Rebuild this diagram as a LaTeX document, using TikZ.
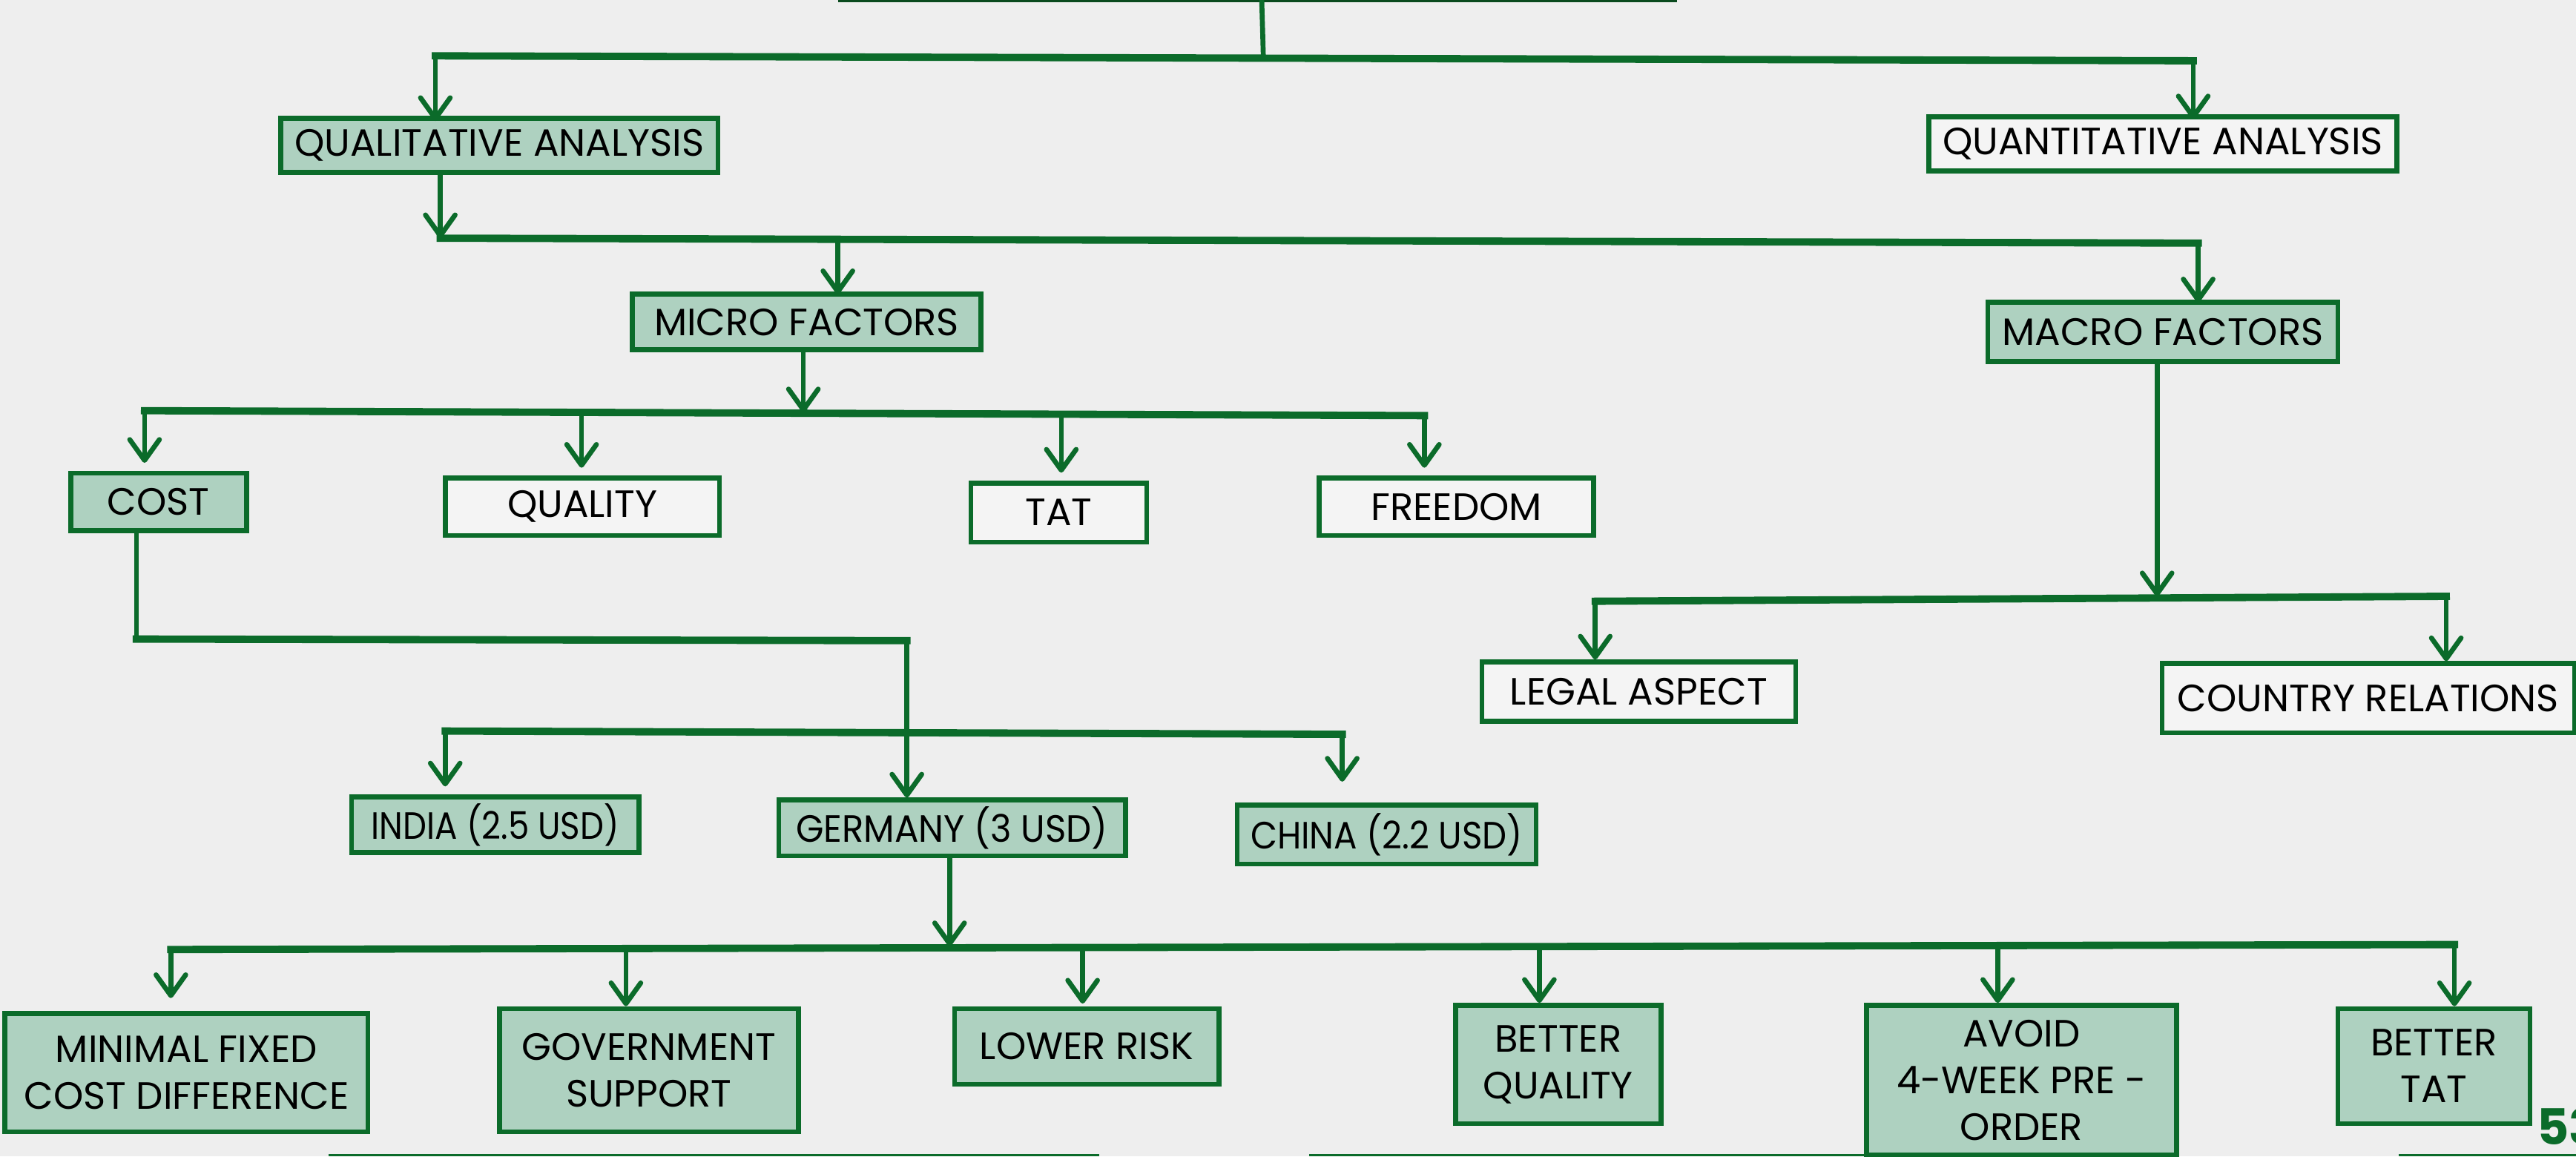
\documentclass[tikz,border=0pt]{standalone}
\usepackage{fontspec}
\usepackage{graphicx}
\setmainfont{Poppins}
\usetikzlibrary{arrows.meta}
\definecolor{bgc}{HTML}{EEEEEE}
\definecolor{leaf}{HTML}{0B6B2A}
\definecolor{darkleaf}{HTML}{0A4A1E}
\definecolor{mint}{HTML}{AED1C0}
\definecolor{paper}{HTML}{F4F4F4}
\newcommand{\narrow}[2]{\scalebox{#1}[1]{#2}}
\tikzset{
  box/.style 2 args={draw=leaf, line width=1.9pt, inner sep=0pt, align=center,
    minimum width={#1*0.02215cm}, minimum height={#2*0.02215cm},
    font=\fontsize{14.6}{17.9}\selectfont, text=black},
  filledbox/.style 2 args={box={#1}{#2}, fill=mint},
  plainbox/.style 2 args={box={#1}{#2}, fill=paper},
  link/.style={draw=leaf, line width=1.9pt},
  bar/.style={draw=leaf, line width=2.8pt, line cap=rect},
  arr/.style={link, -{Straight Barb[length=2.8mm, width=4mm, round]}},
  edge line/.style={draw=#1, line width=0.9pt},
}
\begin{document}
\begin{tikzpicture}[x=0.02215cm, y=-0.02215cm]
\fill[bgc] (0,0) rectangle (1568,704);
\useasboundingbox (0,0) rectangle (1568,704);

% thin rules along the page edges
\draw[edge line=darkleaf] (510,0.6) -- (1021,0.6);
\draw[edge line=leaf] (200,703.3) -- (669,703.3);
\draw[edge line=leaf] (797,703.3) -- (1320,703.3);
\draw[edge line=leaf] (1460,703.3) -- (1568,703.3);

% boxes
\node[filledbox={266}{33}] (qual) at (304,88.5) {QUALITATIVE ANALYSIS};
\node[plainbox={285}{33}] (quant) at (1316.5,87.5) {QUANTITATIVE ANALYSIS};
\node[filledbox={212}{34}] (micro) at (491,196) {MICRO FACTORS};
\node[filledbox={213}{36}] (macro) at (1316.5,202) {MACRO FACTORS};
\node[filledbox={107}{35}] (cost) at (96.5,305.5) {COST};
\node[plainbox={167}{35}] (quality) at (354.5,308.5) {QUALITY};
\node[plainbox={107}{36}] (tat) at (644.5,312) {TAT};
\node[plainbox={167}{35}] (freedom) at (886.5,308.5) {FREEDOM};
\node[plainbox={191}{36}] (legal) at (997.5,421) {LEGAL ASPECT};
\node[plainbox={251}{42}] (country) at (1441.5,425) {COUNTRY RELATIONS};
\node[filledbox={175}{34}] (india) at (301.5,502) {\narrow{0.88}{INDIA (2.5 USD)}};
\node[filledbox={211}{34}] (germany) at (579.5,504) {\narrow{0.94}{GERMANY (3 USD)}};
\node[filledbox={182}{36}] (china) at (844,508) {\narrow{0.91}{CHINA (2.2 USD)}};
\node[filledbox={221}{72}] (minimal) at (113.5,653) {MINIMAL FIXED\\COST DIFFERENCE};
\node[filledbox={182}{75}] (govt) at (395,651.5) {GOVERNMENT\\SUPPORT};
\node[filledbox={161}{46}] (risk) at (661.5,637) {LOWER RISK};
\node[filledbox={125}{72}] (bquality) at (948.5,648) {BETTER\\QUALITY};
\node[filledbox={189}{91}] (avoid) at (1230.5,657.5) {AVOID\\4-WEEK PRE -\\ORDER};
\node[filledbox={117}{70}] (btat) at (1481.5,649) {BETTER\\TAT};

% page number
\node[anchor=south west, inner sep=0pt, text=leaf, font=\fontsize{19}{19}\bfseries\selectfont] (page) at (1544,697.5) {53};

% junction points
\coordinate (top) at (768,0);
\coordinate (topj) at (769,35);
\coordinate (b1L) at (265,34);
\coordinate (b1R) at (1335,37);
\coordinate (b2L) at (268,145);
\coordinate (b2M) at (510,146);
\coordinate (b2R) at (1338,148);
\coordinate (b3J) at (489,251);
\coordinate (b3L) at (88,250);
\coordinate (b3a) at (354,251);
\coordinate (b3b) at (646,252);
\coordinate (b3R) at (867,253);
\coordinate (c1) at (83,389);
\coordinate (c2) at (552,390);
\coordinate (b4L) at (271,445);
\coordinate (b4R) at (817,447);
\coordinate (b5J) at (578,576);
\coordinate (b5L) at (104,578);
\coordinate (b5a) at (381,577);
\coordinate (b5b) at (659,577);
\coordinate (b5c) at (937,576);
\coordinate (b5d) at (1216,576);
\coordinate (b5R) at (1494,575);
\coordinate (b6J) at (1313,363);
\coordinate (b6L) at (971,366);
\coordinate (b6R) at (1489,363);

% level 1
\draw[link] (top) -- (topj);
\draw[bar] (b1L) -- (b1R);
\draw[arr] (b1L) -- ([yshift=-2pt]b1L |- qual.north);
\draw[arr] (b1R) -- ([yshift=-2pt]b1R |- quant.north);

% level 2
\draw[arr] (b2L |- qual.south) -- (b2L);
\draw[bar] (b2L) -- (b2R);
\draw[arr] (b2M) -- ([yshift=-1pt]b2M |- micro.north);
\draw[arr] (b2R) -- ([yshift=-1pt]b2R |- macro.north);

% micro factors
\draw[arr] (b3J |- micro.south) -- (b3J);
\draw[bar] (b3L) -- (b3R);
\draw[arr] (b3L) -- ([yshift=3pt]b3L |- cost.north);
\draw[arr] (b3a) -- ([yshift=3pt]b3a |- quality.north);
\draw[arr] (b3b) -- ([yshift=3pt]b3b |- tat.north);
\draw[arr] (b3R) -- ([yshift=3pt]b3R |- freedom.north);

% cost branch
\draw[link] (c1 |- cost.south) -- (c1);
\draw[bar] (c1) -- (c2);
\draw[arr] (c2) -- (c2 |- germany.north);
\draw[bar] (b4L) -- (b4R);
\draw[arr] (b4L) -- ([yshift=3pt]b4L |- india.north);
\draw[arr] (b4R) -- ([yshift=8pt]b4R |- china.north);

% germany branch
\draw[arr] (b5J |- germany.south) -- (b5J);
\draw[bar] (b5L) -- (b5R);
\draw[arr] (b5L) -- ([yshift=5pt]b5L |- minimal.north);
\draw[arr] (b5a) -- (b5a |- govt.north);
\draw[arr] (b5b) -- ([yshift=1pt]b5b |- risk.north);
\draw[arr] (b5c) -- (b5c |- bquality.north);
\draw[arr] (b5d) -- (b5d |- avoid.north);
\draw[arr] (b5R) -- (b5R |- btat.north);

% macro factors
\draw[arr] (b6J |- macro.south) -- (b6J);
\draw[bar] (b6L) -- (b6R);
\draw[arr] (b6L) -- (b6L |- legal.north);
\draw[arr] (b6R) -- (b6R |- country.north);
\end{tikzpicture}
\end{document}
